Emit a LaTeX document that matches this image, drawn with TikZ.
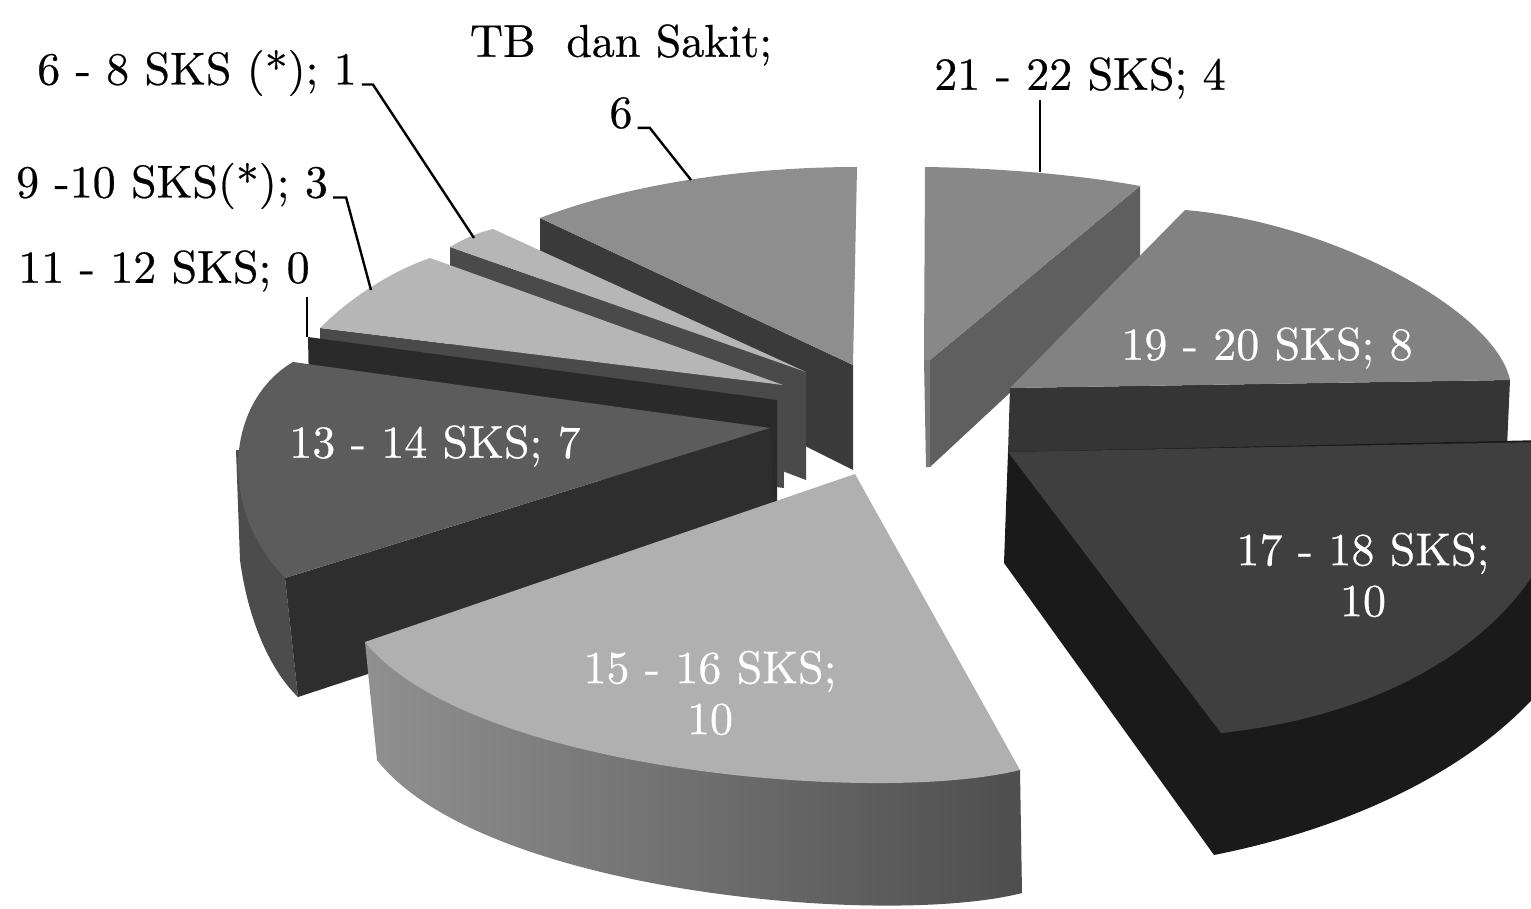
\documentclass[tikz,border=0pt]{standalone}
\usepackage{fontspec}
\newfontfamily\chartfont{lmroman10-regular.otf}[FakeBold=0.5]
\definecolor{tbTop}{HTML}{8E8E8E}
\definecolor{tbFace}{HTML}{3A3A3A}
\definecolor{aTop}{HTML}{888888}
\definecolor{aFace}{HTML}{5F5F5F}
\definecolor{aEdge}{HTML}{7A7A7A}
\definecolor{ltTop}{HTML}{B6B6B6}
\definecolor{ltFace}{HTML}{4A4A4A}
\definecolor{zFace}{HTML}{2A2A2A}
\definecolor{bTop}{HTML}{828282}
\definecolor{bFace}{HTML}{353535}
\definecolor{cTop}{HTML}{5C5C5C}
\definecolor{cFace}{HTML}{2E2E2E}
\definecolor{cSide}{HTML}{4C4C4C}
\definecolor{dTop}{HTML}{3F3F3F}
\definecolor{dSide}{HTML}{1A1A1A}
\definecolor{eTop}{HTML}{B0B0B0}
\definecolor{eSideL}{HTML}{909090}
\definecolor{eSideR}{HTML}{4E4E4E}
\tikzset{
  lbl/.style={font=\chartfont\fontsize{46}{51}\selectfont, inner sep=0pt, align=center},
  inlbl/.style={lbl, text=white},
  leader/.style={draw=black, line width=2.4pt}
}
\begin{document}
\begin{tikzpicture}[x=1pt,y=-1pt]
\useasboundingbox (0,0) rectangle (1531,909);
\fill[white] (0,0) rectangle (1531,909);
\begin{scope}
\clip (0,0) rectangle (1531,909);
% TB dan Sakit
\fill[tbFace] (540,218) -- (853,365) -- (853,470) -- (540,313) -- cycle;
\fill[tbTop] (540,218) .. controls (640,180) and (760,167) .. (857,167) -- (853,365) -- cycle;
% 21 - 22
\fill[aFace] (1140,186) -- (1140,272) -- (930,467) -- (930,360) -- cycle;
\fill[aEdge] (924,360) -- (930,360) -- (930,467) -- (926,467) -- cycle;
\fill[aTop] (925,167) .. controls (1000,168) and (1080,175) .. (1140,186) -- (930,360) -- (924,360) -- cycle;
% 6 - 8
\fill[ltFace] (450,247) -- (806,372) -- (806,480) -- (451,345) -- cycle;
\fill[ltTop] (450,247) .. controls (465,238) and (480,232) .. (493,229) -- (806,372) -- cycle;
% 9 - 10
\fill[ltFace] (320,328) -- (783,385) -- (784,488) -- (322,428) -- cycle;
\fill[ltTop] (320,328) .. controls (350,298) and (390,272) .. (430,258) -- (783,385) -- cycle;
% 11 - 12
\fill[zFace] (308,337) -- (777,400) -- (777,505) -- (310,440) -- cycle;
% 19 - 20
\fill[bFace] (1010,388) -- (1510,380) -- (1507,447) -- (1008,453) -- cycle;
\fill[bTop] (1010,388) -- (1185,210) .. controls (1330,222) and (1495,310) .. (1510,380) -- cycle;
% 13 - 14
\fill[cSide] (236,450) -- (240,560) .. controls (248,620) and (270,670) .. (298,697) -- (285,578) -- (270,450) -- cycle;
\fill[cFace] (285,578) -- (770,428) -- (775,540) -- (298,697) -- cycle;
\fill[cTop] (293,362) .. controls (228,400) and (215,505) .. (285,578) -- (770,428) -- cycle;
% 17 - 18
\fill[dSide] (1008,452) -- (1004,563) -- (1214,855) .. controls (1340,830) and (1470,775) .. (1545,685) -- (1545,440) -- cycle;
\fill[dTop] (1008,452) -- (1545,442) -- (1545,555) .. controls (1500,640) and (1390,715) .. (1221,733) -- cycle;
% 15 - 16
\shade[left color=eSideL, right color=eSideR] (365,642) -- (377,760) .. controls (480,892) and (885,928) .. (1022,893) -- (1020,770) -- cycle;
\fill[eTop] (855,474) -- (1020,770) .. controls (880,805) and (470,772) .. (365,642) -- cycle;
\end{scope}
% labels
\node[lbl] (ltb) at (621,45) {TB\ \ dan Sakit;};
\node[lbl] (ltbv) at (621,113) {6};
\node[lbl] (l68) at (197,73) {6 - 8 SKS (*); 1};
\node[lbl] (l2122) at (1080,78) {21 - 22 SKS; 4};
\node[lbl] (l910) at (172,186) {9 -10 SKS(*); 3};
\node[lbl] (l1112) at (164,271) {11 - 12 SKS; 0};
\node[inlbl] (l1920) at (1267,348) {19 - 20 SKS; 8};
\node[inlbl] (l1314) at (435,446) {13 - 14 SKS; 7};
\node[inlbl] (l1718) at (1363,575) {17 - 18 SKS;\\10};
\node[inlbl] (l1516) at (710,693) {15 - 16 SKS;\\10};
% leader points
\coordinate (tbA) at ([xshift=5pt]ltbv.base east);
\coordinate (tbB) at ([xshift=17pt]ltbv.base east);
\coordinate (tbC) at (691,180);
\coordinate (a68) at ([xshift=5pt]l68.base east);
\coordinate (b68) at ([xshift=16pt]l68.base east);
\coordinate (c68) at (474,238);
\coordinate (a910) at ([xshift=5pt]l910.base east);
\coordinate (b910) at ([xshift=18pt]l910.base east);
\coordinate (c910) at (371,290);
\coordinate (a1112) at (307,297);
\coordinate (c1112) at (307,337);
\coordinate (a2122) at (1040,100);
\coordinate (c2122) at (1040,172);
\draw[leader] (tbA) -- (tbB) -- (tbC);
\draw[leader] (a68) -- (b68) -- (c68);
\draw[leader] (a910) -- (b910) -- (c910);
\draw[leader] (a1112) -- (c1112);
\draw[leader] (a2122) -- (c2122);
\end{tikzpicture}
\end{document}
